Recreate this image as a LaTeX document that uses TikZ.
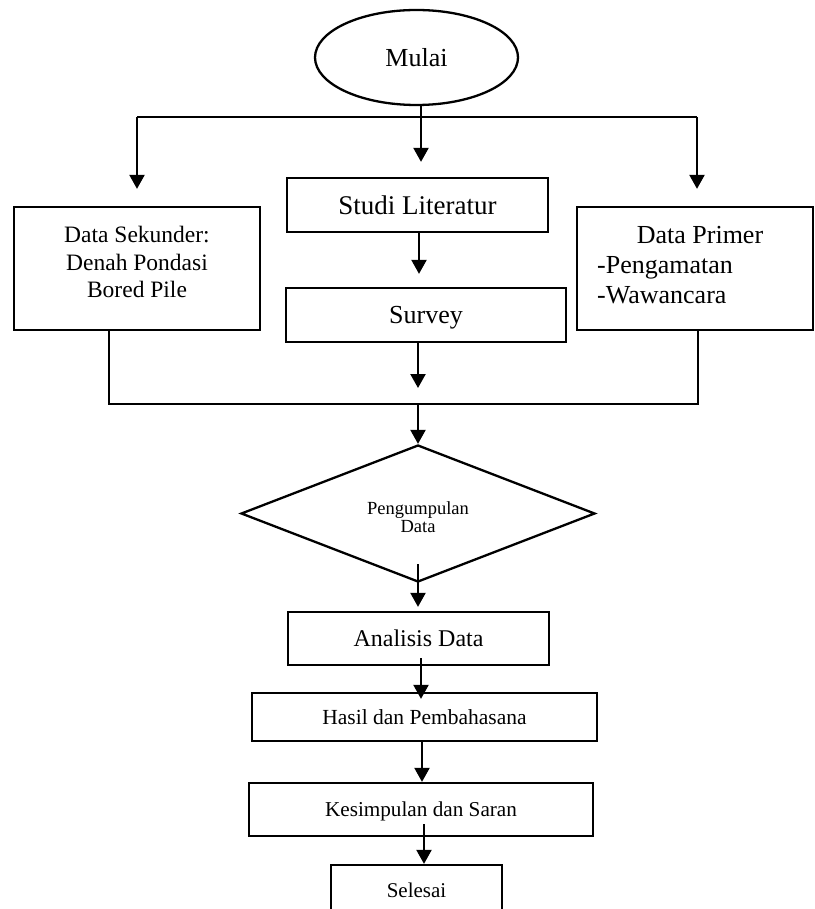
\documentclass[tikz,border=0pt]{standalone}
\usepackage{fontspec}
\setmainfont{Liberation Serif}
\usetikzlibrary{shapes.geometric,arrows.meta}
\begin{document}
\begin{tikzpicture}[x=1pt,y=-1pt,
  box/.style={draw, line width=2.3pt, rectangle, inner sep=0pt},
  arr/.style={line width=2.3pt, -{Triangle[width=15pt,length=14pt]}},
  ln/.style={line width=2.3pt},
  txt/.style={inner sep=0pt, align=center}]
\clip (0,0) rectangle (814,909);
% nodes
\node[draw, ellipse, line width=2.3pt, minimum width=203pt, minimum height=95pt, inner sep=0pt,
      font=\fontsize{26}{30}\selectfont] (mulai) at (416.5,57.5) {Mulai};
\node[box, minimum width=246pt, minimum height=123pt] (sek) at (137,268.5) {};
\node[txt, font=\fontsize{23.5}{27.5}\selectfont] (sekt) at (137,262) {Data Sekunder:\\Denah Pondasi\\Bored Pile};
\node[box, minimum width=236pt, minimum height=123pt] (prim) at (695,268.5) {};
\node[txt, font=\fontsize{26}{30}\selectfont] (primt) at (700,235) {Data Primer};
\node[txt, align=left, anchor=west, font=\fontsize{26}{30}\selectfont] (priml) at (597,280) {-Pengamatan\\-Wawancara};
\node[box, minimum width=261pt, minimum height=54pt, text depth=0pt,
      font=\fontsize{27}{30}\selectfont] (studi) at (417.5,205) {Studi Literatur};
\node[box, minimum width=280pt, minimum height=54pt, text depth=0pt,
      font=\fontsize{26}{30}\selectfont] (survey) at (426,315) {Survey};
\node[draw, diamond, line width=2.3pt, minimum width=354pt, minimum height=137pt, inner sep=0pt] (peng) at (418,513.5) {};
\node[txt, font=\fontsize{18.5}{18}\selectfont] (pengt) at (418,517) {Pengumpulan\\Data};
\node[box, minimum width=261pt, minimum height=53pt, text depth=0pt,
      font=\fontsize{24}{28}\selectfont] (analisis) at (418.5,638.5) {Analisis Data};
\node[box, minimum width=345pt, minimum height=48pt, text depth=0pt,
      font=\fontsize{21.5}{26}\selectfont] (hasil) at (424.5,717) {Hasil dan Pembahasana};
\node[box, minimum width=344pt, minimum height=53pt, text depth=0pt,
      font=\fontsize{21.2}{26}\selectfont] (kes) at (421,809.5) {Kesimpulan dan Saran};
\node[box, minimum width=171pt, minimum height=50pt, text depth=0pt,
      font=\fontsize{21}{26}\selectfont] (selesai) at (416.5,890) {Selesai};
% helper coordinates
\coordinate (tl) at (137,117);
\coordinate (tr) at (697,117);
\coordinate (bl) at (109,404);
\coordinate (br) at (698,404);
\coordinate (bm) at (418,404);
\coordinate (xa) at (421,0);
\coordinate (xb) at (419,0);
\coordinate (xc) at (418,0);
\coordinate (xd) at (421,0);
\coordinate (xe) at (422,0);
\coordinate (xf) at (424,0);
% connectors
\draw[ln] (tl) -- (tr);
\draw[arr, shorten >=15pt] (mulai.south -| xa) -- (studi.north -| xa);
\draw[arr, shorten >=17pt] (tl) -- (sek.north -| tl);
\draw[arr, shorten >=17pt] (tr) -- (prim.north -| tr);
\draw[arr, shorten >=13pt] (studi.south -| xb) -- (survey.north -| xb);
\draw[arr, shorten >=16pt] (survey.south -| bm) -- (bm);
\draw[ln] (sek.south -| bl) -- (bl) -- (br) -- (prim.south -| br);
\draw[arr] (bm) -- (peng.north);
\draw[arr, shorten <=-19pt, shorten >=4pt] (peng.south -| xc) -- (analisis.north -| xc);
\draw[arr, shorten <=-8pt, shorten >=-7pt] (analisis.south -| xd) -- (hasil.north -| xd);
\draw[arr] (hasil.south -| xe) -- (kes.north -| xe);
\draw[arr, shorten <=-13pt] (kes.south -| xf) -- (selesai.north -| xf);
\end{tikzpicture}
\end{document}
